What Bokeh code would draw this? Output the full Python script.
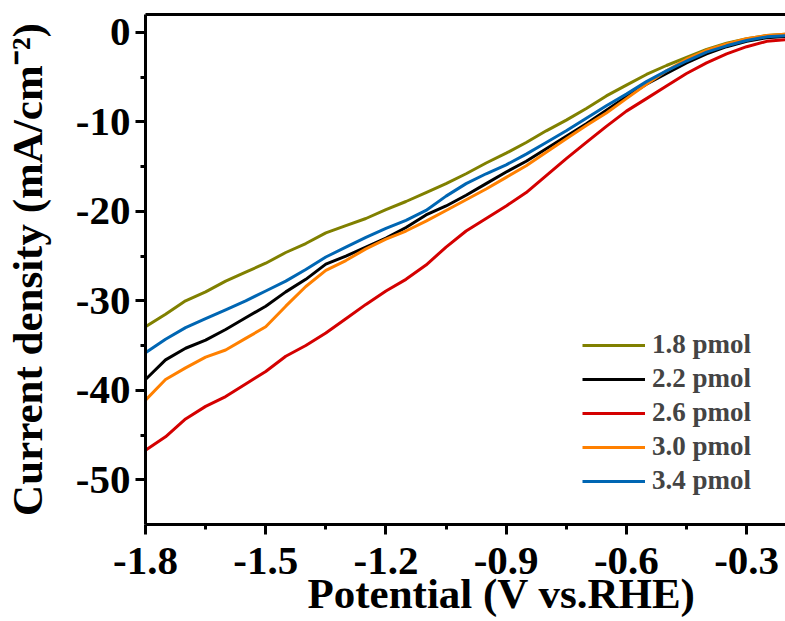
from bokeh.plotting import figure
from bokeh.models import Range1d, FixedTicker, LinearAxis, Legend, LegendItem, Title
from bokeh.embed import file_html
from bokeh.resources import INLINE

potential = [-1.80, -1.75, -1.70, -1.65, -1.60, -1.55, -1.50, -1.45, -1.40, -1.35,
             -1.30, -1.25, -1.20, -1.15, -1.10, -1.05, -1.00, -0.95, -0.90, -0.85,
             -0.80, -0.75, -0.70, -0.65, -0.60, -0.55, -0.50, -0.45, -0.40, -0.35,
             -0.30, -0.25, -0.20]

j_18 = [-32.9, -31.5, -30.0, -29.0, -27.8, -26.8, -25.8, -24.6, -23.6, -22.4,
        -21.6, -20.8, -19.8, -18.9, -17.9, -16.9, -15.8, -14.6, -13.5, -12.3,
        -11.0, -9.8, -8.5, -7.1, -5.9, -4.7, -3.7, -2.8, -1.9, -1.2,
        -0.7, -0.35, -0.2]
j_22 = [-38.8, -36.6, -35.3, -34.4, -33.2, -31.9, -30.6, -29.0, -27.6, -25.9,
        -25.0, -24.0, -23.0, -21.8, -20.4, -19.4, -18.2, -16.9, -15.6, -14.4,
        -13.0, -11.6, -10.2, -8.7, -7.2, -5.8, -4.6, -3.4, -2.4, -1.6,
        -1.0, -0.6, -0.45]
j_26 = [-46.7, -45.2, -43.2, -41.8, -40.7, -39.3, -37.9, -36.2, -35.0, -33.6,
        -32.0, -30.4, -28.9, -27.6, -26.0, -24.0, -22.2, -20.8, -19.4, -17.9,
        -16.0, -14.1, -12.3, -10.5, -8.8, -7.4, -6.0, -4.6, -3.4, -2.4,
        -1.6, -1.0, -0.8]
j_30 = [-41.1, -38.8, -37.5, -36.3, -35.5, -34.2, -32.9, -30.6, -28.4, -26.6,
        -25.5, -24.2, -23.1, -22.2, -21.1, -19.9, -18.7, -17.5, -16.2, -14.9,
        -13.4, -11.9, -10.4, -9.0, -7.4, -5.8, -4.3, -3.0, -2.0, -1.3,
        -0.7, -0.35, -0.2]
j_34 = [-35.8, -34.3, -33.0, -32.0, -31.0, -30.0, -28.9, -27.8, -26.5, -25.1,
        -24.0, -22.9, -21.9, -21.0, -19.9, -18.3, -16.9, -15.8, -14.8, -13.6,
        -12.3, -11.0, -9.6, -8.2, -6.9, -5.5, -4.3, -3.2, -2.2, -1.5,
        -0.9, -0.5, -0.35]

series_names = ["1.8 pmol", "2.2 pmol", "2.6 pmol", "3.0 pmol", "3.4 pmol"]
series_colors = ["#808000", "#000000", "#d40000", "#ff8000", "#0066b3"]
series_values = [j_18, j_22, j_26, j_30, j_34]

x_ticks = [-1.8, -1.5, -1.2, -0.9, -0.6, -0.3]
x_tick_labels = ["-1.8", "-1.5", "-1.2", "-0.9", "-0.6", "-0.3"]
y_ticks = [0, -10, -20, -30, -40, -50]
y_tick_labels = ["0", "-10", "-20", "-30", "-40", "-50"]
x_title = "Potential (V vs.RHE)"
y_title = "Current density (mA/cm\u207b\u00b2)"

FONT = "Liberation Serif"

p = figure(width=785, height=621, output_backend="svg", toolbar_location=None,
           x_range=Range1d(-1.8, -0.203), y_range=Range1d(-55, 2),
           min_border_left=143, min_border_right=0, min_border_top=14,
           min_border_bottom=97)
p.outline_line_color = None
p.grid.visible = False
p.background_fill_color = "white"
p.border_fill_color = "white"

items = []
for name, color, vals in zip(series_names, series_colors, series_values):
    r = p.line(potential, vals, line_color=color, line_width=3)
    items.append(LegendItem(label=name, renderers=[r]))

xa = p.xaxis[0]
xa.ticker = FixedTicker(ticks=x_ticks, minor_ticks=[-1.65, -1.35, -1.05, -0.75, -0.45])
xa.major_label_overrides = {t: s for t, s in zip(x_ticks, x_tick_labels)}

ya = p.yaxis[0]
ya.ticker = FixedTicker(ticks=y_ticks, minor_ticks=[-5, -15, -25, -35, -45])
ya.major_label_overrides = {t: s for t, s in zip(y_ticks, y_tick_labels)}
ya.axis_label = y_title

for ax in (xa, ya):
    ax.axis_line_width = 3
    ax.major_tick_line_width = 3
    ax.minor_tick_line_width = 3
    ax.major_tick_out = 10
    ax.major_tick_in = 0
    ax.minor_tick_out = 5
    ax.minor_tick_in = 0
    ax.major_label_text_font = FONT
    ax.major_label_text_font_style = "bold"
    ax.major_label_text_font_size = "41px"
    ax.major_label_text_color = "black"
    ax.axis_label_text_font = FONT
    ax.axis_label_text_font_style = "bold"
    ax.axis_label_text_font_size = "43px"
    ax.axis_label_text_color = "black"

xa.major_label_standoff = 13
ya.major_label_standoff = 5
ya.axis_label_standoff = 22

# x-axis title: the original frame runs past the cropped right edge, so the
# title sits to the right of this frame's centre
p.add_layout(Title(text=x_title, align="left", offset=162, standoff=-17,
                   text_font=FONT, text_font_style="bold",
                   text_font_size="43px", text_color="black"), "below")

top = LinearAxis(ticker=FixedTicker(ticks=[]), axis_line_width=3,
                 major_tick_line_color=None, minor_tick_line_color=None,
                 major_label_text_font_size="0px")
p.add_layout(top, "above")

legend = Legend(items=items, location=(437, 28), border_line_color=None,
                background_fill_alpha=0, padding=0, margin=0, spacing=3,
                glyph_width=63, glyph_height=20, label_standoff=7,
                label_text_font=FONT, label_text_font_style="bold",
                label_text_font_size="27px", label_height=20)
p.add_layout(legend, "center")

open("out.html", "w").write(file_html(p, INLINE))
